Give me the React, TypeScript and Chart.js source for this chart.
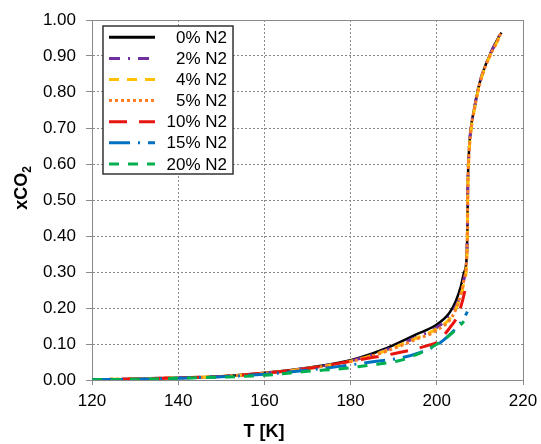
import React, { useEffect, useRef } from "react";
import { Chart, registerables } from "chart.js";

Chart.register(...registerables);

const seriesLabels = ["0% N2", "2% N2", "4% N2", "5% N2", "10% N2", "15% N2", "20% N2"];

const T0 = [120, 130, 140, 150, 160, 170, 180, 187.4, 195.1, 200, 202.9, 204.4, 205.6, 206.3, 206.9, 207.1, 207.2, 207.4, 207.9, 208.7, 209.8, 211, 212.5, 214, 215];
const X0 = [0.001, 0.003, 0.006, 0.010, 0.020, 0.034, 0.055, 0.084, 0.126, 0.154, 0.186, 0.219, 0.261, 0.298, 0.335, 0.42, 0.54, 0.62, 0.698, 0.754, 0.819, 0.865, 0.908, 0.945, 0.965];

const T2 = [120, 130, 140, 150, 160, 170, 180, 187.4, 195.1, 200, 202.9, 204.4, 205.6, 206.3, 206.9, 207.1, 207.2, 207.4, 207.9, 208.7, 209.8, 211, 212.5, 214, 215];
const X2 = [0.001, 0.003, 0.006, 0.010, 0.019, 0.033, 0.053, 0.080, 0.118, 0.146, 0.176, 0.205, 0.240, 0.280, 0.330, 0.42, 0.54, 0.62, 0.698, 0.754, 0.819, 0.865, 0.908, 0.945, 0.969];

const T4 = [120, 130, 140, 150, 160, 170, 180, 187.4, 195, 200, 203, 204.5, 205.6, 206.3, 206.9, 207.1, 207.2, 207.4, 207.9, 208.7, 209.8, 211, 212.5, 214, 214.8];
const X4 = [0.001, 0.003, 0.006, 0.010, 0.019, 0.032, 0.052, 0.078, 0.115, 0.142, 0.170, 0.200, 0.235, 0.270, 0.320, 0.41, 0.53, 0.61, 0.69, 0.75, 0.815, 0.862, 0.905, 0.94, 0.962];

const T5 = [120, 130, 140, 150, 160, 170, 180, 187.4, 195, 200, 203.6, 205.2, 206.3, 206.9, 207.1, 207.2, 207.4, 207.9, 208.7, 209.8, 211, 212.5, 214, 214.8];
const X5 = [0.001, 0.003, 0.006, 0.010, 0.019, 0.032, 0.051, 0.076, 0.112, 0.138, 0.177, 0.223, 0.279, 0.330, 0.41, 0.53, 0.61, 0.69, 0.75, 0.815, 0.862, 0.905, 0.94, 0.962];

const T10 = [120, 130, 140, 150, 160, 170, 180, 185.4, 190, 195, 198, 200, 201.7, 203, 204.4, 205.2, 206, 206.6, 207.1];
const X10 = [0.001, 0.003, 0.006, 0.010, 0.019, 0.032, 0.052, 0.063, 0.073, 0.086, 0.096, 0.104, 0.125, 0.145, 0.168, 0.19, 0.222, 0.252, 0.28];

const T15 = [120, 130, 140, 150, 160, 170, 180, 184.3, 188, 192, 196, 200, 201.7, 203.5, 205.2, 206.3, 207.1];
const X15 = [0.001, 0.002, 0.005, 0.009, 0.016, 0.027, 0.042, 0.049, 0.055, 0.062, 0.076, 0.097, 0.112, 0.132, 0.154, 0.172, 0.19];

const T20 = [120, 130, 140, 150, 160, 170, 180, 183, 187, 192, 194, 196, 199.8, 201.7, 203, 204.5, 206.3];
const X20 = [0.001, 0.002, 0.005, 0.008, 0.013, 0.024, 0.034, 0.039, 0.045, 0.056, 0.065, 0.074, 0.098, 0.112, 0.125, 0.14, 0.163];

const seriesT = [T0, T2, T4, T5, T10, T15, T20];
const seriesX = [X0, X2, X4, X5, X10, X15, X20];
const seriesColors = ["#000000", "#7030A0", "#FFC000", "#FF7F27", "#E8140F", "#0070C0", "#00B050"];
const seriesDashes = [[], [11, 8, 2, 8], [10, 8], [3, 3], [18, 12], [21, 8, 2, 8], [10, 9]];
const seriesWidths = [2.5, 3, 3, 3, 3, 3, 3];

const FONT = "'Liberation Sans', Arial, sans-serif";

const overlayPlugin = {
  id: "overlay",
  beforeDatasetsDraw(chart: any) {
    const { ctx, chartArea } = chart;
    ctx.save();
    ctx.strokeStyle = "#8a8a8a";
    ctx.lineWidth = 1;
    ctx.setLineDash([]);
    ctx.beginPath();
    ctx.moveTo(chartArea.left, Math.round(chartArea.top) + 0.5);
    ctx.lineTo(chartArea.right, Math.round(chartArea.top) + 0.5);
    ctx.moveTo(Math.round(chartArea.right) + 0.5, chartArea.top);
    ctx.lineTo(Math.round(chartArea.right) + 0.5, chartArea.bottom);
    ctx.stroke();
    ctx.restore();
  },
  afterDraw(chart: any) {
    const { ctx } = chart;
    ctx.save();
    const bx = 103, by = 26, bw = 130, bh = 148;
    ctx.fillStyle = "#ffffff";
    ctx.fillRect(bx, by, bw, bh);
    ctx.strokeStyle = "#333333";
    ctx.lineWidth = 1.5;
    ctx.setLineDash([]);
    ctx.strokeRect(bx, by, bw, bh);
    ctx.font = `17px ${FONT}`;
    ctx.textAlign = "right";
    ctx.textBaseline = "middle";
    chart.data.datasets.forEach((ds: any, i: number) => {
      const y = by + 11.3 + i * 21.1;
      ctx.save();
      ctx.strokeStyle = ds.borderColor;
      ctx.lineWidth = 3;
      ctx.setLineDash(ds.borderDash || []);
      ctx.beginPath();
      ctx.moveTo(109, y);
      ctx.lineTo(155, y);
      ctx.stroke();
      ctx.restore();
      ctx.fillStyle = "#000";
      ctx.fillText(ds.label, 227, y + 1);
    });
    ctx.fillStyle = "#000";
    ctx.textAlign = "center";
    ctx.textBaseline = "middle";
    ctx.font = `bold 18px ${FONT}`;
    ctx.fillText("T [K]", 264, 432);

    ctx.translate(22, 188);
    ctx.rotate(-Math.PI / 2);
    ctx.font = `bold 18px ${FONT}`;
    const main = "xCO";
    const wMain = ctx.measureText(main).width;
    ctx.font = `bold 12px ${FONT}`;
    const wSub = ctx.measureText("2").width;
    const total = wMain + wSub;
    ctx.textAlign = "left";
    ctx.font = `bold 18px ${FONT}`;
    ctx.fillText(main, -total / 2, 0);
    ctx.font = `bold 12px ${FONT}`;
    ctx.fillText("2", -total / 2 + wMain, 6);
    ctx.restore();
  },
};

export default function App() {
  const canvasRef = useRef<HTMLCanvasElement | null>(null);

  useEffect(() => {
    document.body.style.margin = "0";
    const canvas = canvasRef.current;
    if (!canvas) return;
    const datasets = seriesLabels.map((label, i) => ({
      label,
      data: seriesT[i].map((t, j) => ({ x: t, y: seriesX[i][j] })),
      borderColor: seriesColors[i],
      backgroundColor: seriesColors[i],
      borderDash: seriesDashes[i],
      borderWidth: seriesWidths[i],
      pointRadius: 0,
      fill: false,
      cubicInterpolationMode: "monotone" as const,
      order: seriesLabels.length - i,
    }));
    const chart = new Chart(canvas, {
      type: "line",
      data: { datasets },
      options: {
        animation: false,
        responsive: false,
        devicePixelRatio: 1,
        layout: { padding: { left: 0, right: 18, top: 20, bottom: 0 } },
        plugins: { legend: { display: false }, tooltip: { enabled: false } },
        scales: {
          x: {
            type: "linear",
            min: 120,
            max: 220,
            afterFit: (s: any) => {
              s.height = 64;
              s.paddingLeft = 0;
              s.paddingRight = 0;
            },
            ticks: {
              stepSize: 20,
              color: "#000",
              font: { family: FONT, size: 17 },
              padding: 6,
              maxRotation: 0,
            },
            grid: { color: "#8a8a8a", tickLength: 5, tickBorderDash: [], tickColor: "#8a8a8a" },
            border: { display: true, color: "#8a8a8a", width: 1, dash: [2, 2] },
          },
          y: {
            type: "linear",
            min: 0,
            max: 1,
            afterFit: (s: any) => {
              s.width = 92;
              s.paddingTop = 0;
              s.paddingBottom = 0;
            },
            ticks: {
              stepSize: 0.1,
              color: "#000",
              font: { family: FONT, size: 17 },
              padding: 10,
              callback: (v: any) => Number(v).toFixed(2),
            },
            grid: { color: "#8a8a8a", tickLength: 6, tickBorderDash: [], tickColor: "#8a8a8a" },
            border: { display: true, color: "#8a8a8a", width: 1, dash: [2, 2] },
          },
        },
      },
      plugins: [overlayPlugin],
    });
    return () => chart.destroy();
  }, []);

  return <canvas ref={canvasRef} width={541} height={444} style={{ display: "block" }} />;
}
